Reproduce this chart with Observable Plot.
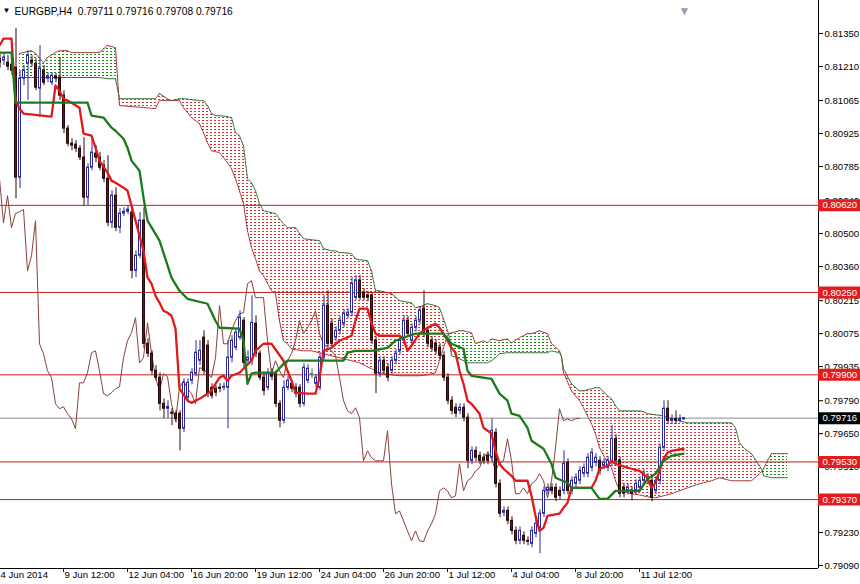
<!DOCTYPE html>
<html><head><meta charset="utf-8">
<script src="https://cdn.jsdelivr.net/npm/d3@7"></script>
<script src="https://cdn.jsdelivr.net/npm/@observablehq/plot@0.6"></script>
<style>
html,body{margin:0;padding:0;background:#fff;}
#chart svg{display:block;background:#fff;}
</style></head><body><div id="chart"></div>
<script>
const symbol = "EURGBP", timeframe = "H4";

const open = [
0.81243,0.81235,0.81226,0.81218,0.81205,0.80738,0.81158,0.81222,0.81235,0.81222,
0.81116,0.81192,0.81158,0.81141,0.81167,0.81163,0.81086,0.80946,0.80882,0.80878,
0.80861,0.80823,0.80653,0.80780,0.80840,0.80823,0.80789,0.80733,0.80546,0.80661,
0.80525,0.80585,0.80593,0.80589,0.80342,0.80406,0.80555,0.80032,0.79990,0.79917,
0.79888,0.79777,0.79756,0.79739,0.79735,0.79735,0.79671,0.79803,0.79875,0.79905,
0.79960,0.80058,0.80024,0.79845,0.79841,0.79845,0.79845,0.79845,0.79973,0.80015,
0.80058,0.80130,0.79960,0.79960,0.80117,0.79990,0.79888,0.79845,0.79905,0.79905,
0.79777,0.79705,0.79845,0.79862,0.79845,0.79845,0.79777,0.79875,0.79905,0.79862,
0.79845,0.79973,0.80194,0.80117,0.80058,0.80087,0.80117,0.80151,0.80164,0.80228,
0.80300,0.80249,0.80236,0.80236,0.80045,0.79905,0.79960,0.79930,0.79917,0.79960,
0.80002,0.80045,0.80130,0.80045,0.80100,0.80130,0.80181,0.80087,0.80045,0.80032,
0.80015,0.79981,0.79888,0.79790,0.79760,0.79747,0.79760,0.79718,0.79535,0.79577,
0.79556,0.79548,0.79556,0.79548,0.79654,0.79437,0.79314,0.79322,0.79280,0.79237,
0.79195,0.79216,0.79195,0.79182,0.79225,0.79250,0.79310,0.79407,0.79420,0.79420,
0.79407,0.79407,0.79526,0.79407,0.79437,0.79450,0.79480,0.79480,0.79505,0.79526,
0.79535,0.79514,0.79505,0.79526,0.79628,0.79535,0.79420,0.79407,0.79407,0.79407,
0.79420,0.79450,0.79463,0.79450,0.79407,0.79450,0.79590,0.79756,0.79705,0.79713,
0.79705,0.79711];
const high = [
0.81269,0.81269,0.81256,0.81235,0.81371,0.81192,0.81214,0.81277,0.81256,0.81243,
0.81299,0.81214,0.81184,0.81184,0.81180,0.81248,0.81107,0.80959,0.80903,0.80895,
0.80874,0.80908,0.80797,0.80903,0.80874,0.80844,0.80810,0.80831,0.80682,0.80695,
0.80606,0.80610,0.80619,0.80606,0.80427,0.80589,0.80610,0.80053,0.80002,0.79939,
0.79909,0.79798,0.79790,0.79756,0.79747,0.79747,0.79883,0.79883,0.79926,0.80045,
0.80045,0.80087,0.80045,0.79862,0.79854,0.79862,0.79866,0.80045,0.80066,0.80096,
0.80172,0.80143,0.80002,0.80236,0.80151,0.80002,0.79905,0.79926,0.79926,0.79917,
0.79790,0.79875,0.79892,0.79875,0.79862,0.79858,0.79947,0.79943,0.79926,0.79900,
0.79990,0.80236,0.80257,0.80138,0.80104,0.80147,0.80177,0.80181,0.80313,0.80321,
0.80321,0.80266,0.80253,0.80249,0.80062,0.79977,0.79977,0.79947,0.79977,0.80007,
0.80062,0.80151,0.80147,0.80117,0.80147,0.80189,0.80257,0.80104,0.80062,0.80049,
0.80032,0.79998,0.79905,0.79807,0.79777,0.79777,0.79777,0.79735,0.79594,0.79594,
0.79573,0.79565,0.79573,0.79713,0.79671,0.79454,0.79339,0.79339,0.79297,0.79254,
0.79254,0.79233,0.79212,0.79254,0.79284,0.79327,0.79424,0.79437,0.79437,0.79437,
0.79424,0.79577,0.79543,0.79467,0.79480,0.79509,0.79522,0.79565,0.79586,0.79565,
0.79552,0.79543,0.79552,0.79684,0.79645,0.79552,0.79437,0.79437,0.79424,0.79454,
0.79467,0.79497,0.79480,0.79467,0.79467,0.79607,0.79790,0.79790,0.79730,0.79747,
0.79730,0.79716];
const low = [
0.81201,0.81214,0.81192,0.81171,0.80648,0.80691,0.81129,0.81065,0.81209,0.81107,
0.80993,0.81129,0.81141,0.81129,0.81141,0.81065,0.80925,0.80869,0.80852,0.80844,
0.80810,0.80619,0.80619,0.80767,0.80801,0.80767,0.80716,0.80529,0.80521,0.80508,
0.80500,0.80572,0.80580,0.80308,0.80313,0.80393,0.80011,0.79973,0.79900,0.79875,
0.79747,0.79713,0.79713,0.79684,0.79696,0.79577,0.79654,0.79790,0.79858,0.79892,
0.79939,0.79900,0.79803,0.79798,0.79807,0.79824,0.79832,0.79671,0.79951,0.80002,
0.80045,0.79926,0.79943,0.79939,0.79973,0.79875,0.79811,0.79832,0.79875,0.79760,
0.79675,0.79692,0.79832,0.79824,0.79803,0.79760,0.79764,0.79862,0.79883,0.79845,
0.79832,0.79960,0.80015,0.80015,0.80041,0.80070,0.80100,0.80138,0.80147,0.80215,
0.80215,0.80215,0.80211,0.80028,0.79820,0.79888,0.79900,0.79871,0.79900,0.79943,
0.79985,0.80028,0.80058,0.80028,0.80083,0.80113,0.80058,0.80015,0.79998,0.79985,
0.79964,0.79871,0.79773,0.79730,0.79718,0.79730,0.79701,0.79501,0.79518,0.79531,
0.79518,0.79518,0.79518,0.79531,0.79420,0.79293,0.79297,0.79263,0.79220,0.79178,
0.79178,0.79178,0.79174,0.79165,0.79208,0.79140,0.79293,0.79390,0.79390,0.79361,
0.79369,0.79390,0.79390,0.79390,0.79420,0.79433,0.79463,0.79463,0.79488,0.79509,
0.79475,0.79497,0.79488,0.79509,0.79518,0.79378,0.79378,0.79390,0.79365,0.79390,
0.79403,0.79433,0.79433,0.79361,0.79390,0.79433,0.79573,0.79688,0.79688,0.79688,
0.79696,0.79708];
const close = [
0.81226,0.81248,0.81209,0.81192,0.80738,0.81158,0.81192,0.81256,0.81226,0.81120,
0.81201,0.81141,0.81167,0.81171,0.81158,0.81086,0.80946,0.80882,0.80874,0.80861,
0.80823,0.80653,0.80780,0.80844,0.80823,0.80780,0.80733,0.80546,0.80661,0.80525,
0.80585,0.80593,0.80602,0.80342,0.80406,0.80555,0.80032,0.79990,0.79917,0.79888,
0.79777,0.79756,0.79764,0.79735,0.79713,0.79671,0.79866,0.79866,0.79909,0.79994,
0.80002,0.79917,0.79820,0.79811,0.79824,0.79841,0.79849,0.79973,0.80045,0.80079,
0.80143,0.79951,0.79973,0.80121,0.79990,0.79888,0.79832,0.79905,0.79892,0.79777,
0.79705,0.79845,0.79875,0.79841,0.79820,0.79777,0.79930,0.79926,0.79905,0.79888,
0.79973,0.80194,0.80032,0.80032,0.80087,0.80130,0.80160,0.80164,0.80287,0.80300,
0.80228,0.80228,0.80228,0.80045,0.79905,0.79960,0.79917,0.79888,0.79960,0.79990,
0.80045,0.80130,0.80075,0.80100,0.80130,0.80172,0.80075,0.80032,0.80015,0.80002,
0.79981,0.79888,0.79790,0.79747,0.79735,0.79760,0.79718,0.79535,0.79577,0.79548,
0.79535,0.79535,0.79535,0.79662,0.79437,0.79310,0.79322,0.79280,0.79237,0.79195,
0.79237,0.79195,0.79191,0.79237,0.79267,0.79310,0.79407,0.79420,0.79407,0.79378,
0.79386,0.79522,0.79407,0.79450,0.79463,0.79492,0.79505,0.79548,0.79569,0.79548,
0.79492,0.79526,0.79535,0.79628,0.79535,0.79395,0.79395,0.79420,0.79395,0.79437,
0.79450,0.79480,0.79450,0.79378,0.79450,0.79590,0.79756,0.79705,0.79713,0.79705,
0.79713,0.79716];

// Tenkan-sen (red) and Kijun-sen (green): [bar, price]
const tenkan = [[0,0.81299],[1,0.81328],[3,0.81328],[4,0.81065],[5,0.81031],[6,0.81010],[13,0.80997],[14,0.81129],[15,0.81107],[16,0.81073],[17,0.81065],[18,0.81056],[20,0.81035],[21,0.80925],[23,0.80916],[24,0.80865],[25,0.80810],[27,0.80759],[28,0.80725],[29,0.80716],[31,0.80695],[32,0.80682],[33,0.80619],[34,0.80555],[36,0.80427],[37,0.80313],[38,0.80287],[39,0.80236],[40,0.80206],[41,0.80172],[42,0.80164],[43,0.80151],[44,0.80096],[45,0.79841],[47,0.79790],[48,0.79781],[50,0.79798],[52,0.79820],[53,0.79832],[54,0.79862],[55,0.79888],[56,0.79896],[57,0.79875],[58,0.79896],[60,0.79909],[61,0.79926],[63,0.79960],[64,0.80002],[66,0.80032],[68,0.80032],[71,0.79960],[73,0.79875],[74,0.79824],[77,0.79820],[79,0.79820],[80,0.79888],[81,0.80002],[83,0.80015],[85,0.80045],[88,0.80066],[89,0.80130],[90,0.80181],[92,0.80181],[93,0.80121],[94,0.80075],[95,0.80066],[100,0.80066],[101,0.80053],[102,0.80002],[103,0.80024],[105,0.80075],[107,0.80100],[109,0.80117],[110,0.80100],[111,0.80075],[113,0.80015],[114,0.79994],[115,0.79917],[116,0.79862],[117,0.79790],[118,0.79777],[120,0.79735],[121,0.79675],[123,0.79650],[124,0.79577],[125,0.79522],[126,0.79501],[128,0.79471],[129,0.79450],[132,0.79450],[133,0.79386],[134,0.79301],[135,0.79237],[136,0.79250],[137,0.79301],[140,0.79310],[141,0.79335],[142,0.79356],[143,0.79420],[148,0.79420],[149,0.79450],[150,0.79501],[152,0.79514],[153,0.79535],[154,0.79522],[158,0.79501],[160,0.79492],[162,0.79463],[163,0.79420],[164,0.79441],[166,0.79543],[167,0.79569],[168,0.79577],[171,0.79586]];
const kijun = [[0,0.81269],[3,0.81269],[4,0.81056],[22,0.81056],[23,0.81001],[26,0.80993],[28,0.80950],[29,0.80937],[31,0.80903],[32,0.80865],[33,0.80810],[35,0.80767],[36,0.80653],[37,0.80555],[40,0.80470],[43,0.80313],[45,0.80257],[47,0.80223],[52,0.80202],[54,0.80130],[55,0.80100],[60,0.80096],[61,0.80045],[62,0.79862],[63,0.79905],[64,0.79909],[69,0.79909],[71,0.79947],[72,0.79960],[86,0.79960],[87,0.79994],[89,0.80002],[93,0.80002],[97,0.80015],[99,0.80045],[101,0.80058],[104,0.80075],[111,0.80075],[113,0.80032],[116,0.80011],[117,0.79917],[118,0.79896],[123,0.79883],[125,0.79820],[127,0.79790],[128,0.79735],[130,0.79726],[132,0.79675],[133,0.79620],[136,0.79586],[138,0.79522],[139,0.79463],[142,0.79441],[143,0.79420],[148,0.79420],[150,0.79373],[152,0.79373],[154,0.79407],[160,0.79407],[162,0.79458],[164,0.79480],[166,0.79535],[168,0.79556],[171,0.79565]];

// Senkou spans (cloud edges), bar positions (shifted 26 bars forward)
const cloudIdx = [5,8,9,11,12,14,15,17,18,25, 27,29,29.8,30,39,40,42,43,45,46, 48,50,51,52,53,54,55,57,58,59, 60,61,62,63,64,65,66,68,69,70, 71,72,73,74,76,78,80,81,83,84, 85,86,88,89,90,92,93,94,95,98, 100,103,104,105,107,109,110,111,112,112.3, 113,115,116,117,118,119,121,122,123,124, 125,127,128,130,132,133,135,137,138,140, 140.5,141,143,145,146,148,149,150,152,153, 154,155,158,160,161,162,164,166,168,172, 175,178,180,183,184,185,186,188,190,190.7, 191,192,193,197];
const spanRed = [
0.81265,0.81277,0.81265,0.81226,0.81248,0.81269,0.81277,0.81277,0.81269,0.81269,
0.81299,0.81290,0.81090,0.81044,0.81031,0.81065,0.81065,0.81065,0.81065,0.81035,
0.80993,0.80967,0.80929,0.80886,0.80852,0.80848,0.80844,0.80801,0.80776,0.80733,
0.80682,0.80627,0.80512,0.80440,0.80393,0.80342,0.80321,0.80257,0.80245,0.80130,
0.80045,0.80032,0.80011,0.80007,0.80002,0.80002,0.79994,0.79990,0.79981,0.79977,
0.79973,0.79968,0.79960,0.79956,0.79951,0.79934,0.79926,0.79917,0.79905,0.79900,
0.79896,0.79896,0.79896,0.79896,0.79900,0.79909,0.79960,0.80015,0.80066,0.80075,
0.80079,0.80087,0.80087,0.80083,0.80079,0.80032,0.80045,0.80036,0.80053,0.80049,
0.80045,0.80053,0.80036,0.80058,0.80075,0.80075,0.80087,0.80075,0.80032,0.80002,
0.79977,0.79909,0.79832,0.79790,0.79760,0.79692,0.79650,0.79590,0.79526,0.79505,
0.79450,0.79407,0.79395,0.79390,0.79386,0.79382,0.79378,0.79386,0.79395,0.79420,
0.79437,0.79450,0.79463,0.79450,0.79450,0.79450,0.79450,0.79450,0.79480,0.79492,
0.79501,0.79535,0.79565,0.79565];
const spanGreen = [
0.81163,0.81163,0.81163,0.81163,0.81163,0.81163,0.81163,0.81163,0.81163,0.81163,
0.81158,0.81158,0.81090,0.81073,0.81073,0.81095,0.81073,0.81065,0.81073,0.81073,
0.81069,0.81065,0.81065,0.81044,0.81010,0.81001,0.81001,0.80997,0.80993,0.80929,
0.80916,0.80874,0.80733,0.80716,0.80682,0.80627,0.80597,0.80589,0.80585,0.80563,
0.80542,0.80525,0.80525,0.80525,0.80478,0.80474,0.80470,0.80436,0.80427,0.80427,
0.80419,0.80419,0.80415,0.80393,0.80389,0.80385,0.80342,0.80257,0.80257,0.80245,
0.80215,0.80206,0.80185,0.80189,0.80202,0.80194,0.80185,0.80138,0.80087,0.80075,
0.79981,0.79968,0.79960,0.79951,0.79951,0.79951,0.79951,0.79951,0.79960,0.79973,
0.79990,0.79994,0.79994,0.79994,0.79994,0.79994,0.79994,0.79994,0.80002,0.79994,
0.79977,0.79926,0.79862,0.79832,0.79832,0.79841,0.79845,0.79845,0.79811,0.79798,
0.79769,0.79747,0.79747,0.79747,0.79743,0.79735,0.79730,0.79726,0.79713,0.79696,
0.79696,0.79696,0.79696,0.79696,0.79675,0.79611,0.79590,0.79565,0.79514,0.79492,
0.79471,0.79467,0.79463,0.79463];

const chikouShift = 26;
const levels = [0.80620, 0.80250, 0.79900, 0.79530, 0.79370];
const yTicks = [0.81350,0.81210,0.81065,0.80925,0.80785,0.80640,0.80500,0.80360,0.80215,0.80075,0.79935,0.79790,0.79650,0.79510,0.79370,0.79230,0.79090];
const xTickIdx = [0,16,32,48,64,80,96,112,128,144,160];
const xLabels = ["4 Jun 2014","9 Jun 12:00","12 Jun 04:00","16 Jun 20:00","19 Jun 12:00","24 Jun 04:00","26 Jun 20:00","1 Jul 12:00","4 Jul 04:00","8 Jul 20:00","11 Jul 12:00"];

// ---- build tables
const candles = open.map((o, i) => ({i, open: o, high: high[i], low: low[i], close: close[i]}));
const last = candles[candles.length - 1];
const bull = candles.filter(d => d.close > d.open);
const bear = candles.filter(d => d.close < d.open);
const doji = candles.filter(d => d.close === d.open);
const chikou = candles.filter(d => d.i >= chikouShift).map(d => ({i: d.i - chikouShift, close: d.close}));

const cloud = cloudIdx.map((i, k) => ({i, red: spanRed[k], green: spanGreen[k]}));
const cloudSeg = [];
{
  let seg = 0, cur = [];
  const flush = () => {
    if (cur.length > 1) {
      const s = cur.find(r => r.red !== r.green);
      const kind = s && s.red > s.green ? "up" : "down";
      cur.forEach(r => cloudSeg.push({...r, seg, kind}));
    }
    seg++; cur = [];
  };
  cloud.forEach(r => {
    cur.push(r);
    if (r.red === r.green && cur.length > 1) { flush(); cur.push(r); }
  });
  flush();
}

const W = 860, H = 584, mR = 42, mB = 16;
const xDomain = [0.25, 204.75];
const yDomain = [0.790773, 0.814902];
const unit = (xDomain[1] - xDomain[0]) / (W - mR);
const boxX2 = xDomain[1] + mR * unit;

const bullC = "#2a2a9c", bearFill = "#5a1818", bearC = "#2a0a0a", dojiC = "#2e8b2e";

const chart = Plot.plot({
  width: W, height: H,
  marginLeft: 0, marginRight: mR, marginTop: 0, marginBottom: mB,
  x: {domain: xDomain},
  y: {domain: yDomain},
  color: {type: "identity"},
  style: {fontFamily: "'Liberation Sans', Arial, sans-serif", fontSize: "9.6px", background: "#fff", color: "#000"},
  marks: [
    Plot.areaY(cloudSeg.filter(d => d.kind === "up"), {x: "i", y1: "red", y2: "green", z: "seg", fill: "url(#hatchUp)"}),
    Plot.areaY(cloudSeg.filter(d => d.kind === "down"), {x: "i", y1: "red", y2: "green", z: "seg", fill: "url(#hatchDown)"}),
    Plot.line(cloud, {x: "i", y: "red", stroke: "#a33030", strokeWidth: 1, strokeDasharray: "3,1"}),
    Plot.line(cloud, {x: "i", y: "green", stroke: "#2f6a2f", strokeWidth: 1, strokeDasharray: "3,1"}),
    Plot.ruleY(levels, {y: d => d, stroke: "#bf2020", strokeWidth: 1}),
    Plot.ruleY([last.close], {y: d => d, stroke: "#8c8c8c", strokeWidth: 1}),
    Plot.line(chikou, {x: "i", y: "close", stroke: "#8b3f3a", strokeWidth: 1}),
    Plot.ruleX(bull, {x: "i", y1: "low", y2: "high", stroke: bullC, strokeWidth: 1, dx: 0.5}),
    Plot.ruleX(bear, {x: "i", y1: "low", y2: "high", stroke: bearC, strokeWidth: 1, dx: 0.5}),
    Plot.ruleX(doji, {x: "i", y1: "low", y2: "high", stroke: dojiC, strokeWidth: 1, dx: 0.5}),
    Plot.rect(bull, {x1: d => d.i - 0.25, x2: d => d.i + 0.25, y1: "open", y2: "close", fill: "#ffffff", stroke: bullC, strokeWidth: 1, dx: 0.5}),
    Plot.rect(bear, {x1: d => d.i - 0.25, x2: d => d.i + 0.25, y1: "open", y2: "close", fill: bearFill, stroke: bearC, strokeWidth: 1, dx: 0.5}),
    Plot.ruleY(doji, {y: "open", x1: d => d.i - 0.4, x2: d => d.i + 0.4, stroke: dojiC, dx: 0.5}),
    Plot.line(tenkan, {x: d => d[0], y: d => d[1], stroke: "#e01a1a", strokeWidth: 2.3}),
    Plot.line(kijun, {x: d => d[0], y: d => d[1], stroke: "#1c7a1c", strokeWidth: 2.3}),
    Plot.ruleX([xDomain[1]], {stroke: "#000"}),
    Plot.ruleY([yDomain[0]], {stroke: "#000"}),
    Plot.axisY(yTicks, {anchor: "right", tickSize: 4, tickPadding: 2, tickFormat: d => d.toFixed(5), label: null}),
    Plot.axisX(xTickIdx, {anchor: "bottom", tickSize: 4, tickFormat: () => "", label: null}),
    Plot.text(xTickIdx, {x: d => d, frameAnchor: "bottom", dy: 9, dx: 1, text: d => xLabels[xTickIdx.indexOf(d)], textAnchor: "start", fill: "#000"}),
    Plot.ruleY(levels, {y: d => d, x1: xDomain[1], x2: boxX2, stroke: "#e31d1d", strokeWidth: 12}),
    Plot.text(levels, {y: d => d, x: xDomain[1], dx: 4, text: d => d.toFixed(5), fill: "#fff", textAnchor: "start"}),
    Plot.ruleY([last.close], {y: d => d, x1: xDomain[1], x2: boxX2, stroke: "#000", strokeWidth: 12}),
    Plot.text([last.close], {y: d => d, x: xDomain[1], dx: 4, text: d => d.toFixed(5), fill: "#fff", textAnchor: "start"}),
    Plot.text(["\u25BC"], {frameAnchor: "top-left", dx: 2, dy: 7, text: d => d, fontSize: 8, textAnchor: "start", fill: "#000"}),
    Plot.text([`${symbol},${timeframe}\u00a0\u00a0${last.open.toFixed(5)} ${last.high.toFixed(5)} ${last.low.toFixed(5)} ${last.close.toFixed(5)}`],
      {frameAnchor: "top-left", dx: 14, dy: 7, text: d => d, textAnchor: "start", fill: "#000", fontSize: 10.2}),
    Plot.text([last.i], {x: d => d, frameAnchor: "top", dy: 6, dx: 1, text: () => "\u25BC", fill: "#9a9aaa", fontSize: 12})
  ]
});

// hatch patterns for the cloud (dotted columns, one per bar)
const NS = "http://www.w3.org/2000/svg";
const defs = document.createElementNS(NS, "defs");
[["hatchDown", "#d83232"], ["hatchUp", "#1a8a1a"]].forEach(([id, col]) => {
  const p = document.createElementNS(NS, "pattern");
  p.setAttribute("id", id);
  p.setAttribute("patternUnits", "userSpaceOnUse");
  p.setAttribute("x", "0"); p.setAttribute("y", "0");
  p.setAttribute("width", "4"); p.setAttribute("height", "3");
  const r = document.createElementNS(NS, "rect");
  r.setAttribute("x", "2"); r.setAttribute("y", "0");
  r.setAttribute("width", "2"); r.setAttribute("height", "1");
  r.style.fill = col;
  r.setAttribute("shape-rendering", "crispEdges");
  p.appendChild(r);
  defs.appendChild(p);
});
chart.insertBefore(defs, chart.firstChild);
document.getElementById("chart").append(chart);
</script>
</body></html>
